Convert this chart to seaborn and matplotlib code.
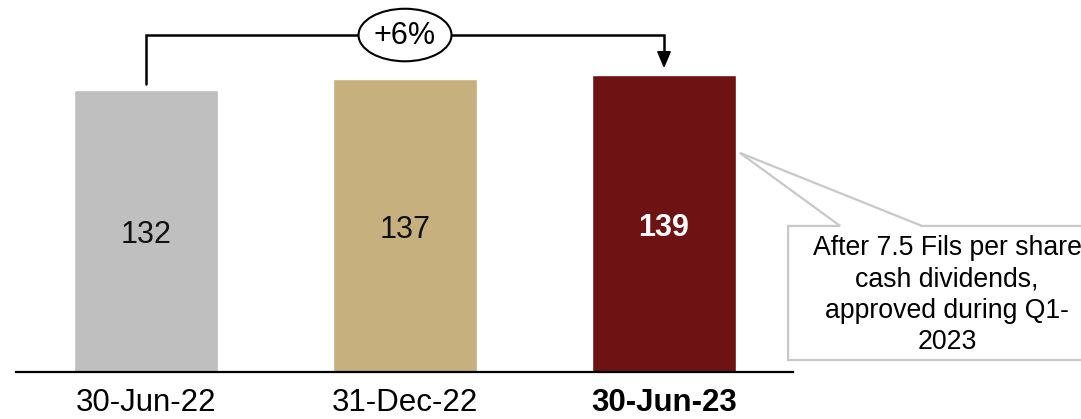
import matplotlib
matplotlib.use("Agg")
import matplotlib.pyplot as plt
from matplotlib.patches import Ellipse, Polygon
import seaborn as sns
import pandas as pd

# Values shown on the bars
periods = ["30-Jun-22", "31-Dec-22", "30-Jun-23"]
values = [132, 137, 139]
bar_colors = ["#bfbfbf", "#c5b07e", "#6e1214"]
label_colors = ["#111111", "#111111", "#ffffff"]
growth_label = "+6%"
note_text = "After 7.5 Fils per share\ncash dividends,\napproved during Q1-\n2023"

sns.set_theme(style="white")
plt.rcParams["font.family"] = ["Liberation Sans", "DejaVu Sans"]

df = pd.DataFrame({"period": periods, "value": values})

fig = plt.figure(figsize=(10.81, 4.19), dpi=100)
fig.patch.set_facecolor("white")
ax = fig.add_axes([16 / 1081, 47 / 419, 777 / 1081, 372 / 419])
ax.set_facecolor("none")

sns.barplot(data=df, x="period", y="value", hue="period", palette=bar_colors,
            width=0.556, legend=False, ax=ax, saturation=1)

ax.set_xlim(-0.502, 2.498)
ax.set_ylim(0, 174.2)
ax.set_yticks([])
ax.set_xlabel("")
ax.set_ylabel("")
for side in ["left", "right", "top"]:
    ax.spines[side].set_visible(False)
ax.spines["bottom"].set_color("black")
ax.spines["bottom"].set_linewidth(1.6)
ax.tick_params(axis="x", length=0, pad=11.5, labelsize=22.5, labelcolor="black")
for i, lab in enumerate(ax.get_xticklabels()):
    if i == 2:
        lab.set_fontweight("bold")

# Value labels, centred in each bar
for i, v in enumerate(values):
    ax.text(i, v / 2 - 5.6, str(v), ha="center", va="baseline", fontsize=22,
            color=label_colors[i], fontweight="bold" if i == 2 else "normal")

# Growth connector from first to last bar
level = 157.8
ax.plot([0, 0, 2, 2], [values[0] + 3, level, level, values[2] + 10.5],
        color="black", lw=1.8, solid_joinstyle="miter", clip_on=False)
ax.add_patch(Polygon([[2 - 0.024, values[2] + 11], [2 + 0.024, values[2] + 11],
                      [2, values[2] + 4]], closed=True, color="black", clip_on=False))
ax.add_patch(Ellipse((1, level), 0.359, 24.6, facecolor="white",
                     edgecolor="black", lw=1.5, zorder=4, clip_on=False))
ax.text(1, level - 0.5, growth_label, ha="center", va="center", fontsize=22,
        color="black", zorder=5)

# Callout note pointing at the last bar
top, bottom, left, right = 68.4, 5.6, 2.479, 3.75
callout = Polygon([[2.293, 102.6], [2.996, top], [right, top], [right, bottom],
                   [left, bottom], [left, top], [2.68, top]], closed=True,
                  facecolor="white", edgecolor="#c8c8c8", lw=1.6,
                  zorder=3, clip_on=False)
ax.add_patch(callout)
ax.text(3.093, 36, note_text, ha="center", va="center", fontsize=19.2,
        linespacing=1.27, color="black", zorder=4, clip_on=False)

fig.savefig("out.png", dpi=100, facecolor="white")
